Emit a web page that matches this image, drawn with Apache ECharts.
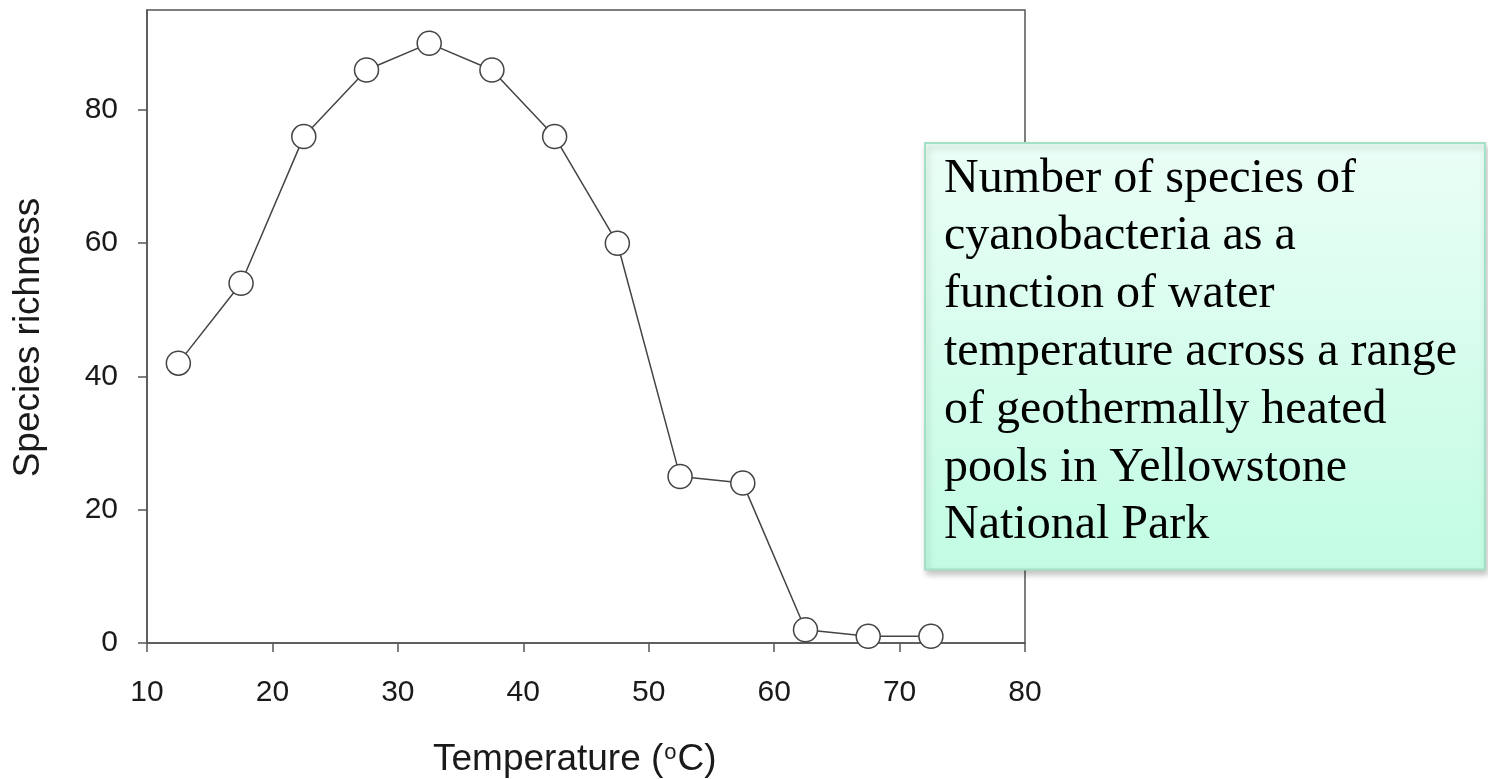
<!DOCTYPE html>
<html>
<head>
<meta charset="utf-8">
<script src="https://cdn.jsdelivr.net/npm/echarts@6/dist/echarts.min.js"></script>
<style>
html,body{margin:0;padding:0;background:#fff;}
#chart{width:1488px;height:779px;}
</style>
</head>
<body>
<div id="chart"></div>
<script>
const temperatures = [12.5, 17.5, 22.5, 27.5, 32.5, 37.5, 42.5, 47.5, 52.5, 57.5, 62.5, 67.5, 72.5];
const richness = [42, 54, 76, 86, 90, 86, 76, 60, 25, 24, 2, 1, 1];
const xTicks = [10, 20, 30, 40, 50, 60, 70, 80];
const yTicks = [0, 20, 40, 60, 80];
const xTitle = 'Temperature ({sup|o}C)';
const yTitle = 'Species richness';
const noteLines = [
  'Number of species of',
  'cyanobacteria as a',
  'function of water',
  'temperature across a range',
  'of geothermally heated',
  'pools in Yellowstone',
  'National Park'
];

const chart = echarts.init(document.getElementById('chart'), null, {renderer: 'canvas'});
const axisColor = '#555';
const sans = 'Liberation Sans, Arial, Helvetica, sans-serif';
const labelFont = {fontFamily: sans, fontSize: 30, color: '#1a1a1a'};

chart.setOption({
  animation: false,
  grid: {left: 147, right: 463, top: 10, bottom: 136, show: true, borderColor: axisColor, borderWidth: 1.5, backgroundColor: 'transparent'},
  xAxis: {
    type: 'value', min: 10, max: 80, interval: 10,
    axisLine: {show: true, onZero: false, lineStyle: {color: axisColor, width: 1.5}},
    axisTick: {show: true, length: 9, lineStyle: {color: axisColor, width: 1.5}, customValues: xTicks},
    axisLabel: Object.assign({margin: 35, customValues: xTicks}, labelFont),
    splitLine: {show: false}
  },
  yAxis: {
    type: 'value', min: 0, max: 95, interval: 20,
    axisLine: {show: true, lineStyle: {color: axisColor, width: 1.5}},
    axisTick: {show: true, length: 9, lineStyle: {color: axisColor, width: 1.5}, customValues: yTicks},
    axisLabel: Object.assign({margin: 29, customValues: yTicks}, labelFont),
    splitLine: {show: false}
  },
  series: [{
    type: 'line',
    data: temperatures.map((t, i) => [t, richness[i]]),
    symbol: 'circle', symbolSize: 24,
    lineStyle: {color: '#444', width: 1.5},
    itemStyle: {color: '#fff', borderColor: '#444', borderWidth: 1.5},
    z: 3
  }],
  graphic: [{
    type: 'text', x: 433, y: 760, z: 10,
    style: {
      text: xTitle, fontFamily: sans, fontSize: 37, fill: '#1a1a1a',
      align: 'left', verticalAlign: 'middle',
      rich: {sup: {fontFamily: sans, fontSize: 22, fill: '#1a1a1a', verticalAlign: 'top', padding: [0, 1, 6, 1]}}
    }
  }, {
    type: 'text', x: 29, y: 337.5, rotation: Math.PI / 2, z: 10,
    style: {text: yTitle, fontFamily: sans, fontSize: 37, fill: '#1a1a1a', align: 'center', verticalAlign: 'middle'}
  }, {
    type: 'group', x: 925, y: 143, z: 10,
    children: [{
      type: 'rect',
      shape: {x: 0, y: 0, width: 560, height: 426.5},
      style: {
        fill: new echarts.graphic.LinearGradient(0, 0, 0, 1, [{offset: 0, color: '#eafef6'}, {offset: 1, color: '#c2fce3'}]),
        stroke: '#a4e0c6', lineWidth: 2,
        shadowBlur: 6, shadowOffsetX: 2, shadowOffsetY: 4, shadowColor: 'rgba(0,0,0,0.22)'
      }
    }, {
      type: 'text',
      x: 19, y: 7,
      style: {
        text: noteLines.join('\n'),
        fontFamily: 'Liberation Serif, Times New Roman, serif',
        fontSize: 48, lineHeight: 57.8, fill: '#000'
      }
    }]
  }]
});
</script>
</body>
</html>
